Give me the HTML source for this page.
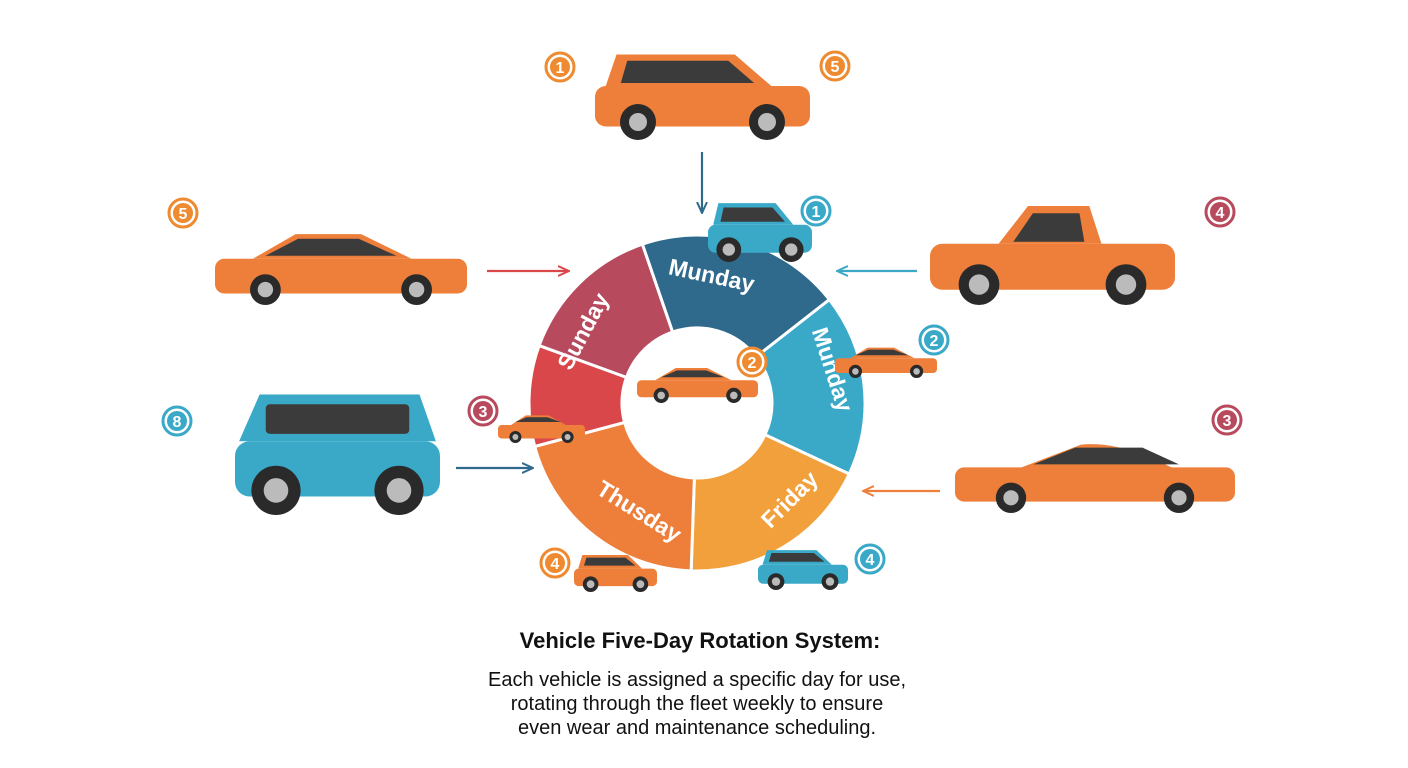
<!DOCTYPE html>
<html><head><meta charset="utf-8"><style>
html,body{margin:0;padding:0;background:#fff;width:1408px;height:768px;overflow:hidden}
svg{display:block}
</style></head><body>
<svg id="s" width="1408" height="768" viewBox="0 0 1408 768" xmlns="http://www.w3.org/2000/svg" font-family="Liberation Sans, sans-serif">
<defs>
<marker id="ab" markerUnits="userSpaceOnUse" markerWidth="12" markerHeight="12" refX="10" refY="6" orient="auto"><path d="M0,1 L11,6 L0,11" fill="none" stroke="#2f6a8c" stroke-width="2"/></marker>
<marker id="ar" markerUnits="userSpaceOnUse" markerWidth="12" markerHeight="12" refX="10" refY="6" orient="auto"><path d="M0,1 L11,6 L0,11" fill="none" stroke="#d9474a" stroke-width="2"/></marker>
<marker id="at" markerUnits="userSpaceOnUse" markerWidth="12" markerHeight="12" refX="10" refY="6" orient="auto"><path d="M0,1 L11,6 L0,11" fill="none" stroke="#3aa9c8" stroke-width="2"/></marker>
<marker id="ao" markerUnits="userSpaceOnUse" markerWidth="12" markerHeight="12" refX="10" refY="6" orient="auto"><path d="M0,1 L11,6 L0,11" fill="none" stroke="#ee7f3a" stroke-width="2"/></marker>
</defs>
<g id="ring"></g>
<g id="cars"></g>
<g stroke-width="2.2" fill="none">
<line x1="702" y1="152" x2="702" y2="212" stroke="#2f6a8c" marker-end="url(#ab)"/>
<line x1="487" y1="271" x2="568" y2="271" stroke="#d9474a" marker-end="url(#ar)"/>
<line x1="917" y1="271" x2="838" y2="271" stroke="#3aa9c8" marker-end="url(#at)"/>
<line x1="456" y1="468" x2="532" y2="468" stroke="#2f6a8c" marker-end="url(#ab)"/>
<line x1="940" y1="491" x2="864" y2="491" stroke="#ee7f3a" marker-end="url(#ao)"/>
</g>
<g id="badges"></g>
<g fill="#111" text-anchor="middle">
<text x="700" y="648" font-size="22" font-weight="bold">Vehicle Five-Day Rotation System:</text>
<text x="697" y="686" font-size="20">Each vehicle is assigned a specific day for use,</text>
<text x="697" y="710" font-size="20">rotating through the fleet weekly to ensure</text>
<text x="697" y="734" font-size="20">even wear and maintenance scheduling.</text>
</g>
</svg>
<script>
var NS="http://www.w3.org/2000/svg";
function el(t,a,p){var e=document.createElementNS(NS,t);for(var k in a)e.setAttribute(k,a[k]);(p||document.getElementById('s')).appendChild(e);return e;}
var cx=697,cy=403,R=168,r=75;
function pt(a,rad){a=a*Math.PI/180;return [cx+rad*Math.cos(a),cy+rad*Math.sin(a)];}
function seg(a0,a1,col){var p1=pt(a0,R),p2=pt(a1,R),p3=pt(a1,r),p4=pt(a0,r);var lg=(a1-a0)>180?1:0;
el('path',{d:'M'+p1+' A'+R+','+R+' 0 '+lg+' 1 '+p2+' L'+p3+' A'+r+','+r+' 0 '+lg+' 0 '+p4+' Z',fill:col,stroke:'#fff','stroke-width':3},document.getElementById('ring'));}
seg(-109,-38,'#2f6a8c');seg(-38,25,'#3aa9c8');seg(25,92,'#f2a03c');seg(92,165,'#ee7f3a');seg(165,200,'#d9474a');seg(200,251,'#b84a5e');
function lab(t,x,y,rot){var e=el('text',{x:x,y:y,'font-size':23,'font-weight':'bold',fill:'#fff','text-anchor':'middle',transform:'rotate('+rot+' '+x+' '+y+')'},document.getElementById('ring'));e.textContent=t;}
lab('Munday',710,283,12);lab('Munday',825,372,72);lab('Friday',795,505,-45);lab('Thusday',635,518,32);lab('Sunday',590,335,-62);
function car(x,y,w,h,col,type,flip){var g=el('g',{transform:'translate('+x+','+y+')'+(flip?' translate('+w+',0) scale(-1,1)':'')},document.getElementById('cars'));
var bh=h*0.45,by=h*0.4;
el('rect',{x:0,y:by,width:w,height:bh,rx:h*0.12,fill:col},g);
var cab;
if(type=='suv') cab='M'+w*0.05+','+by+' L'+w*0.1+','+h*0.05+' L'+w*0.65+','+h*0.05+' L'+w*0.82+','+by+' Z';
else if(type=='van') cab='M'+w*0.02+','+by+' L'+w*0.12+','+h*0.02+' L'+w*0.9+','+h*0.02+' L'+w*0.98+','+by+' Z';
else if(type=='truck') cab='M'+w*0.3+','+by+' L'+w*0.35+','+h*0.03+' L'+w*0.6+','+h*0.03+' L'+w*0.72+','+by+' Z';
else if(type=='sport') cab='M'+w*0.2+','+(by+4)+' Q'+w*0.4+','+h*0.05+' '+w*0.55+','+h*0.1+' L'+w*0.8+','+(by+4)+' Z';
else cab='M'+w*0.15+','+by+' L'+w*0.32+','+h*0.08+' L'+w*0.58+','+h*0.08+' L'+w*0.78+','+by+' Z';
el('path',{d:cab,fill:col},g);
var win='#3b3b3b';
if(type=='van') el('rect',{x:w*0.15,y:h*0.1,width:w*0.7,height:h*0.24,rx:4,fill:win},g);
else if(type=='truck') el('path',{d:'M'+w*0.37+','+(by-2)+' L'+w*0.39+','+h*0.1+' L'+w*0.58+','+h*0.1+' L'+w*0.66+','+(by-2)+' Z',fill:win},g);
else if(type=='suv') el('path',{d:'M'+w*0.12+','+(by-3)+' L'+w*0.15+','+h*0.12+' L'+w*0.62+','+h*0.12+' L'+w*0.74+','+(by-3)+' Z',fill:win},g);
else el('path',{d:'M'+w*0.2+','+(by-3)+' L'+w*0.33+','+h*0.14+' L'+w*0.57+','+h*0.14+' L'+w*0.72+','+(by-3)+' Z',fill:win},g);
var wr=h*0.2;
[w*0.2,w*0.8].forEach(function(wx){el('circle',{cx:wx,cy:h-wr,r:wr,fill:'#2a2a2a'},g);el('circle',{cx:wx,cy:h-wr,r:wr*0.5,fill:'#bbb'},g);});
}
car(595,50,215,90,'#ee7f3a','suv');
car(215,228,252,77,'#ee7f3a','sedan');
car(235,392,205,123,'#3aa9c8','van');
car(930,203,245,102,'#ee7f3a','truck',true);
car(955,437,280,76,'#ee7f3a','sport',true);
car(708,200,104,62,'#3aa9c8','suv');
car(835,345,102,33,'#ee7f3a','sedan');
car(637,365,121,38,'#ee7f3a','sedan');
car(498,413,87,30,'#ee7f3a','sedan');
car(574,553,83,39,'#ee7f3a','suv');
car(758,548,90,42,'#3aa9c8','suv');
function badge(x,y,col,n){var g=document.getElementById('badges');el('circle',{cx:x,cy:y,r:14,fill:'#fff',stroke:col,'stroke-width':3},g);el('circle',{cx:x,cy:y,r:10,fill:col},g);var t=el('text',{x:x,y:y+6,'font-size':16,'font-weight':'bold',fill:'#fff','text-anchor':'middle'},g);t.textContent=n;}
var O='#ee8a30',T='#3aa9c8',M='#b84a5e';
badge(560,67,O,1);badge(835,66,O,5);badge(183,213,O,5);badge(1220,212,M,4);badge(816,211,T,1);badge(934,340,T,2);badge(752,362,O,2);badge(483,411,M,3);badge(177,421,T,8);badge(1227,420,M,3);badge(555,563,O,4);badge(870,559,T,4);
</script>
</body></html>
